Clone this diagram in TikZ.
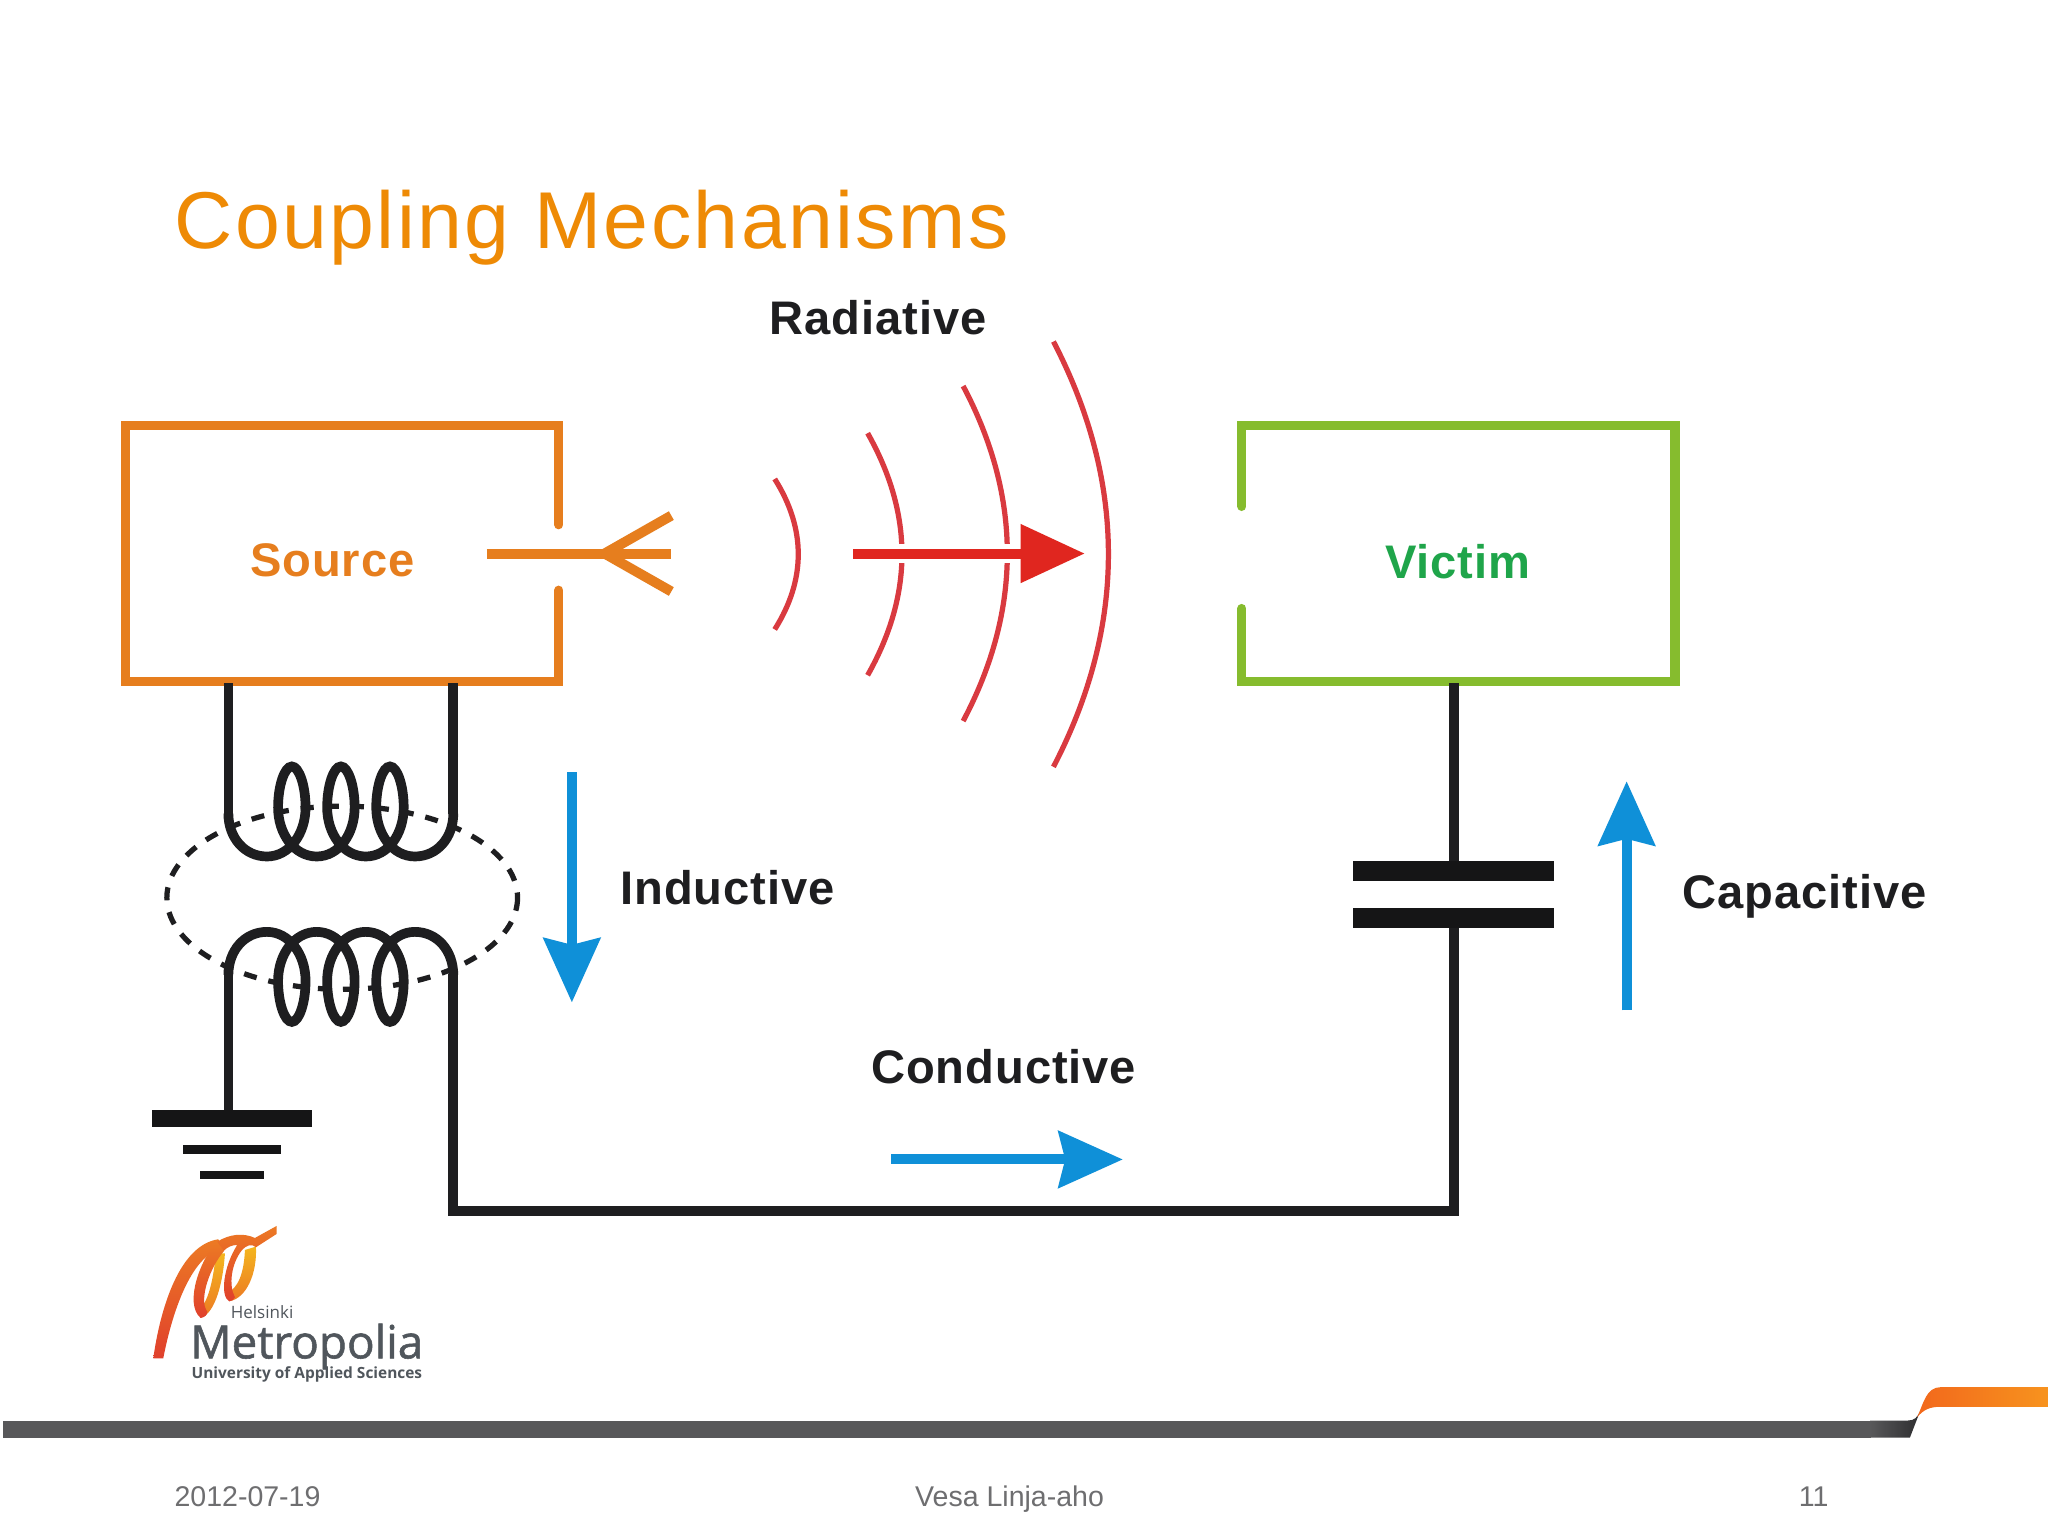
\documentclass[tikz,border=0pt]{standalone}
\usepackage{fontspec}
\setmainfont{Liberation Sans}
\newfontfamily\titlefont[LetterSpace=3.0]{Liberation Sans}
\newfontfamily\labfont[LetterSpace=2]{Liberation Sans}
\newfontfamily\logofont{Open Sans}
\newfontfamily\logobold[FakeBold=1.2]{Open Sans}
\usetikzlibrary{arrows.meta}
\definecolor{titleor}{HTML}{EE8A05}
\definecolor{srcor}{HTML}{E67E1E}
\definecolor{vicgr}{HTML}{86BC2E}
\definecolor{victxt}{HTML}{1FA54A}
\definecolor{wave}{HTML}{D93A40}
\definecolor{radred}{HTML}{E0261F}
\definecolor{cblue}{HTML}{0F90D8}
\definecolor{ink}{HTML}{1E1E20}
\definecolor{foot}{HTML}{6E6E70}
\definecolor{logogr}{HTML}{50565C}
\definecolor{bandg}{HTML}{58585A}
\definecolor{bandd}{HTML}{2E2E30}
\definecolor{bandoa}{HTML}{F2681C}
\definecolor{bandob}{HTML}{F7931E}
\definecolor{lgred}{HTML}{E0402C}
\definecolor{lgor}{HTML}{EC7A24}
\definecolor{lgyl}{HTML}{F4B61E}
\tikzset{
  lab/.style={inner sep=0pt,font=\labfont\fontsize{18}{20}\selectfont\bfseries,text=ink},
  foottxt/.style={inner sep=0pt,font=\fontsize{10.9}{12}\selectfont,text=foot},
  wire/.style={draw=ink,line width=3.7pt,line join=miter},
  coil/.style={draw=ink,line width=3.7pt},
  srcbox/.style={draw=srcor,line width=3.5pt,line cap=round,line join=miter},
  vicbox/.style={draw=vicgr,line width=3.5pt,line cap=round,line join=miter},
  ant/.style={draw=srcor,line width=3.8pt},
  wavearc/.style={draw=wave,line width=2pt},
  flow/.style={draw=cblue,line width=3.8pt,-{Stealth[length=24.5pt,width=21.5pt,inset=2.5pt]}},
}
\newcommand{\coilshape}{(174.5,-61.8) .. controls (174.5,-43) and (187,-28.8) .. (204,-28.8)
 .. controls (221,-28.8) and (233.5,-46) .. (233.5,-66.3)
 .. controls (233.5,-83) and (228.5,-97.6) .. (223,-97.6)
 .. controls (217.5,-97.6) and (212.5,-83) .. (212.5,-66.3)
 .. controls (212.5,-46) and (225,-28.8) .. (242,-28.8)
 .. controls (259,-28.8) and (271,-46) .. (271,-66.3)
 .. controls (271,-83) and (266,-97.6) .. (260.5,-97.6)
 .. controls (255,-97.6) and (250,-83) .. (250,-66.3)
 .. controls (250,-46) and (262.5,-28.8) .. (279.5,-28.8)
 .. controls (296.5,-28.8) and (308.5,-46) .. (308.5,-66.3)
 .. controls (308.5,-83) and (303.5,-97.6) .. (298,-97.6)
 .. controls (292.5,-97.6) and (287.5,-83) .. (287.5,-66.3)
 .. controls (287.5,-46) and (300,-28.8) .. (317,-28.8)
 .. controls (334,-28.8) and (346.4,-43) .. (346.4,-61.8)}
\begin{document}
\begin{tikzpicture}[x=0.5pt,y=-0.5pt]
\fill[white] (0,0) rectangle (1565,1173.75);
\useasboundingbox (0,0) rectangle (1565,1173.75);

% title
\node[anchor=base west,inner sep=0pt,text=titleor,font=\titlefont\fontsize{30.8}{36}\selectfont] (title) at (133,190) {Coupling Mechanisms};

% source box
\coordinate (srcA) at (427,401);
\coordinate (srcB) at (427,451);
\draw[srcbox] (srcA) -- (427,325) -- (96,325) -- (96,521) -- (427,521) -- (srcB);
\node[inner sep=0pt,text=srcor,font=\labfont\fontsize{18}{20}\selectfont\bfseries] (source) at (254,428) {Source};
% antenna
\coordinate (antS) at (372,423);
\coordinate (antE) at (513,423);
\coordinate (antJ) at (462,423);
\coordinate (antU) at (513,394);
\coordinate (antD) at (513,452);
\draw[ant] (antS) -- (antE);
\draw[ant] (antU) -- (antJ) -- (antD);

% victim box
\coordinate (vicA) at (949,387);
\coordinate (vicB) at (949,465);
\draw[vicbox] (vicA) -- (949,325) -- (1280,325) -- (1280,521) -- (949,521) -- (vicB);
\node[inner sep=0pt,text=victxt,font=\labfont\fontsize{18}{20}\selectfont\bfseries] (victim) at (1114,429) {Victim};

% radiative
\draw[wavearc] (592,366) .. controls (616,404) and (616,443) .. (592,481);
\draw[wavearc] (663,331) .. controls (698,393) and (698,454) .. (663,516);
\draw[wavearc] (736,295) .. controls (781,380) and (781,466) .. (736,551);
\draw[wavearc] (805,261) .. controls (861,369) and (861,478) .. (805,586);
\coordinate (radA) at (652,423);
\coordinate (radB) at (829,423);
\draw[white,line width=7.2pt] (radA) -- (785,423);
\draw[draw=radred,line width=3.8pt,-{Stealth[length=24.5pt,width=21.5pt,inset=0pt]}] (radA) -- (radB);
\node[lab] (radiative) at (671,243) {Radiative};

% magnetic ellipse
\coordinate (ell) at (261.5,686);
\draw[ink,line width=2pt,dash pattern=on 5pt off 4.6pt] (ell) ellipse [x radius=134,y radius=70];

% coils
\begin{scope}[shift={(0,683.3)}]
 \draw[coil] \coilshape;
\end{scope}
\begin{scope}[shift={(0,683.3)},yscale=-1]
 \draw[coil] \coilshape;
\end{scope}

% wires
\coordinate (w1a) at (174.5,522);
\coordinate (w1b) at (174.5,622);
\coordinate (w2a) at (346.4,522);
\coordinate (w2b) at (346.4,622);
\coordinate (w3a) at (174.5,744);
\coordinate (w3b) at (174.5,850);
\coordinate (w4a) at (346.4,744);
\coordinate (w4b) at (346.4,925.5);
\coordinate (w4c) at (1111,925.5);
\coordinate (capB) at (1111,701);
\coordinate (capT) at (1111,665);
\coordinate (vicW) at (1111,522);
\draw[wire] (w1a) -- (w1b);
\draw[wire] (w2a) -- (w2b);
\draw[wire] (w3a) -- (w3b);
\draw[wire] (w4a) -- (w4b) -- (w4c) -- (capB);
\draw[wire] (vicW) -- (capT);

% ground
\fill[ink!70!black] (116,848.5) rectangle (238.5,861.5);
\fill[ink!70!black] (139.5,875) rectangle (215,881.5);
\fill[ink!70!black] (152.5,894.5) rectangle (202,901);

% capacitor
\fill[ink!70!black] (1034,658) rectangle (1187.5,673);
\fill[ink!70!black] (1034,694) rectangle (1187.5,709);

% flow arrows
\coordinate (indA) at (437,590);
\coordinate (indB) at (437,766);
\draw[flow] (indA) -- (indB);
\node[lab] (inductive) at (556,678) {Inductive};
\coordinate (capA) at (1243,772);
\coordinate (capZ) at (1243,597);
\draw[flow] (capA) -- (capZ);
\node[lab] (capacitive) at (1379,685) {Capacitive};
\coordinate (conA) at (681,886);
\coordinate (conB) at (858,886);
\draw[flow] (conA) -- (conB);
\node[lab] (conductive) at (767,815) {Conductive};

% logo
\begin{scope}[shift={(99.3,924.6)},scale=0.2547]
 % yellow backs of the two loops
 \shade[top color=lgyl,bottom color=lgor] (258,130) -- (285,130) .. controls (280,210) and (258,310) .. (212,324) -- (205,300) .. controls (235,280) and (250,210) .. (258,130) -- cycle;
 \shade[top color=lgyl,bottom color=lgor] (345,120) -- (378,110) .. controls (382,190) and (350,265) .. (298,274) -- (290,250) .. controls (325,235) and (342,190) .. (345,120) -- cycle;
 % main ribbon
 \shade[top color=lgor,bottom color=lgred] (70,445) .. controls (92,290) and (150,105) .. (265,88) -- (280,115) .. controls (190,130) and (130,290) .. (100,445) -- cycle;
 % first loop, front band
 \shade[top color=lgor,bottom color=lgred] (262,95) .. controls (215,140) and (160,280) .. (212,324) .. controls (225,322) and (232,315) .. (232,305) .. controls (205,270) and (240,170) .. (285,120) -- cycle;
 % second arch, front band and tail
 \shade[top color=lgor,bottom color=lgred] (262,95) .. controls (300,72) and (340,68) .. (375,84) -- (440,48) -- (440,72) -- (378,112) .. controls (365,100) and (350,105) .. (335,122) .. controls (305,160) and (295,225) .. (315,262) .. controls (310,270) and (305,274) .. (298,274) .. controls (270,260) and (280,170) .. (322,105) .. controls (305,105) and (292,112) .. (282,122) -- cycle;
\end{scope}
\node[anchor=base west,inner sep=0pt,text=logogr,font=\logofont\fontsize{6.5}{8}\selectfont] (hel) at (176,1007.4) {Helsinki};
\node[anchor=base west,inner sep=0pt,text=logogr,font=\logobold\fontsize{17.5}{18}\selectfont] (met) at (145,1038) {Metropolia};
\node[anchor=base west,inner sep=0pt,text=logogr,font=\logofont\fontsize{5.9}{7}\selectfont\bfseries] (uni) at (146,1053.2) {University of Applied Sciences};

% footer band
\fill[bandg] (2,1085.5) rectangle (1430,1098.5);
\shade[left color=bandg,right color=bandd] (1429,1085.5) -- (1458,1085.5) .. controls (1463,1085.5) and (1465,1083) .. (1467,1079) -- (1459.5,1098.5) -- (1429,1098.5) -- cycle;
\shade[left color=bandoa,right color=bandob] (1465,1083) .. controls (1470,1072) and (1472,1060) .. (1483,1060) -- (1565,1060) -- (1565,1075) -- (1483,1075) .. controls (1475,1075) and (1470,1077) .. (1465,1083) -- cycle;

% footer text
\node[anchor=base west,foottxt] (date) at (133,1151.5) {2012-07-19};
\node[anchor=base,foottxt] (author) at (771.5,1151.5) {Vesa Linja-aho};
\node[anchor=base,foottxt] (page) at (1386,1151.5) {11};
\end{tikzpicture}
\end{document}
